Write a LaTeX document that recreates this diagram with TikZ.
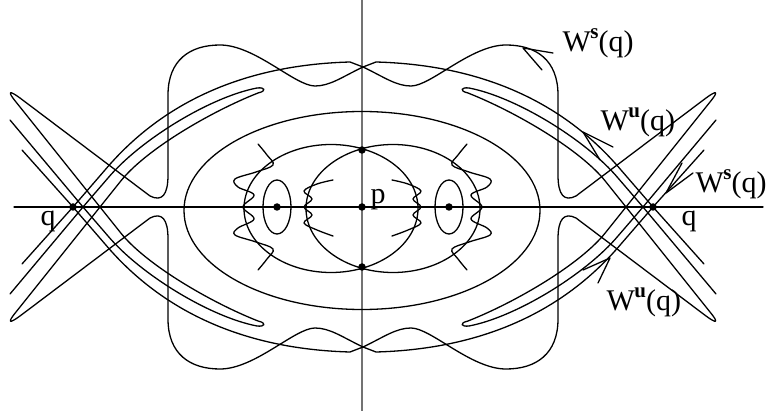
\documentclass[tikz,border=0pt]{standalone}
\usepackage{fontspec}
\setmainfont{Liberation Serif}
\newcommand\Wlab[1]{W\kern-0.5pt\raisebox{13pt}{\fontsize{21}{21}\selectfont\bfseries #1}(q)}
\begin{document}
\begin{tikzpicture}[x=1pt,y=-1pt,line width=1.3pt,line join=round,line cap=round,
  dot/.style={circle,fill=black,inner sep=0pt,minimum size=7.5pt},
  lab/.style={anchor=base west,inner sep=0pt,font=\fontsize{30}{30}\selectfont}]
\useasboundingbox (0,0) rectangle (767,411);
\fill[white] (0,0) rectangle (767,411);
% axes
\draw[black!55,line width=1.3pt] (362,0) -- (362,411);
\draw (14,207) -- (763,207);
% homoclinic tangle, drawn in the upper-left quadrant and mirrored
\foreach \sx/\sy/\tx/\ty in {1/1/0/0,-1/1/726/0,1/-1/0/-414,-1/-1/726/-414}{
 \begin{scope}[xshift=\tx pt,yshift=\ty pt,xscale=\sx,yscale=\sy]
  \draw (73,207) -- (105,170) .. controls (160,105) and (240,65) .. (350,62) -- (363,67);
  \draw (83,207) -- (108,178) .. controls (140,140) and (210,97) .. (257,88)
        .. controls (265,87) and (267,91) .. (258,93)
        .. controls (210,112) and (145,150) .. (120,182) -- (100,207);
  \draw (22,150) -- (73,207);
  \draw (10,120) -- (83,207);
  \draw (363,67) .. controls (342,77) and (330,86) .. (315,86)
        .. controls (295,86) and (255,45) .. (220,45)
        .. controls (190,45) and (168,60) .. (168,95) -- (168,175)
        .. controls (168,195) and (162,202) .. (150,196) -- (20,98)
        .. controls (9,90) and (7,91) .. (16,102) -- (100,207);
 \end{scope}}
% inner structure
\draw (362,210.5) ellipse [x radius=178,y radius=99];
\draw (331,208.5) ellipse [x radius=87,y radius=64];
\draw (393,208.5) ellipse [x radius=87,y radius=64];
\draw (277,207) ellipse [x radius=14,y radius=27];
\draw (449,207) ellipse [x radius=14,y radius=27];
\foreach \sx/\tx in {1/0,-1/725}{
 \begin{scope}[xshift=\tx pt,xscale=\sx]
  \draw plot[smooth,tension=0.6] coordinates {(258,144) (267,155) (273,165) (256,172) (235,179) (238,187) (254,195) (243,207) (254,219) (238,228) (235,235) (256,242) (273,249) (267,259) (258,270)};
  \draw plot[smooth,tension=0.6] coordinates {(333,180) (317,184) (304,191) (312,199) (304,207) (312,215) (304,223) (317,230) (333,236)};
 \end{scope}}
% arrowheads
\draw (553,53) -- (523,48) -- (542,70);
\draw (613,147) -- (583,132) -- (600,160);
\draw (682,163) -- (666,193) -- (693,173);
\draw (583,270) -- (610,258) -- (598,283);
% points
\node[dot] (qL) at (73,207) {};
\node[dot] (qR) at (653,207) {};
\node[dot] (p) at (362,207) {};
\node[dot] (top) at (362,150) {};
\node[dot] (bot) at (362,267) {};
\node[dot] (eL) at (277,207) {};
\node[dot] (eR) at (449,207) {};
% labels
\node[lab] (ws1) at (562,52) {\Wlab{s}};
\node[lab] (wu1) at (600,131) {\Wlab{u}};
\node[lab] (ws2) at (695,193) {\Wlab{s}};
\node[lab] (wu2) at (606,310) {\Wlab{u}};
\node[lab] (lqL) at (40,226) {q};
\node[lab] (lqR) at (681,226) {q};
\node[lab] (lp) at (370,204) {p};
\end{tikzpicture}
\end{document}
